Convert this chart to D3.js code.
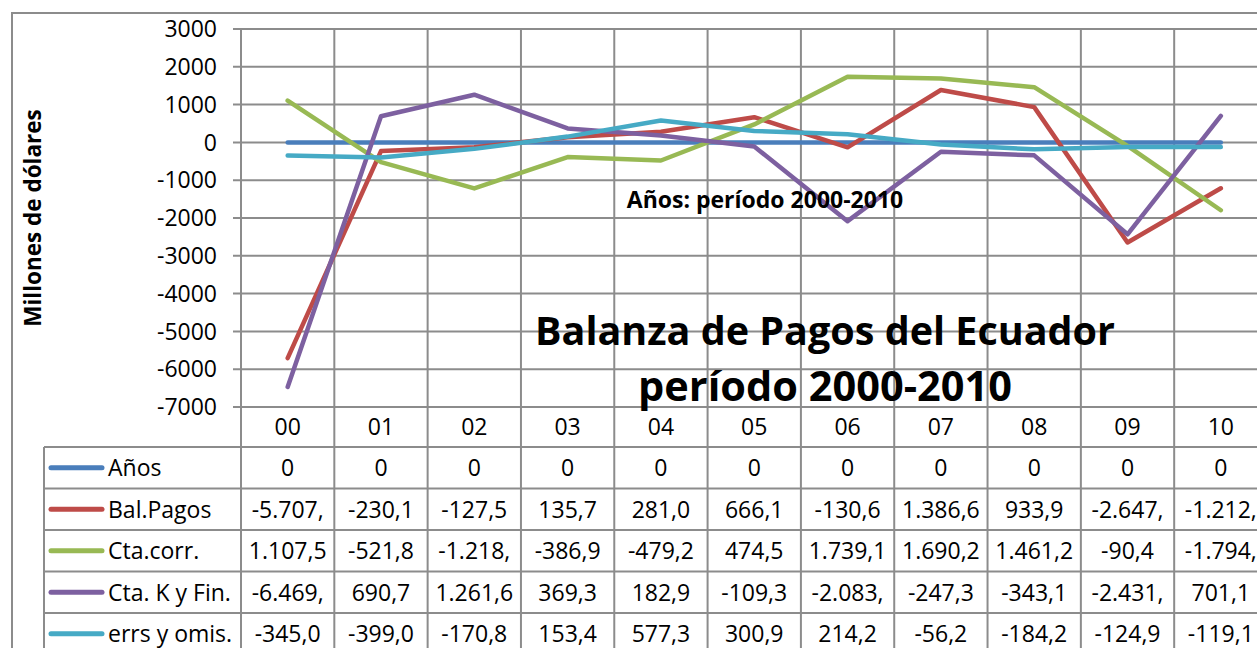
<!DOCTYPE html>
<html>
<head>
<meta charset="utf-8">
<script src="https://cdn.jsdelivr.net/npm/d3@7"></script>
<style>
  body { margin: 0; background: #fff; }
  svg { display: block; font-family: "Open Sans", sans-serif; }
  .grid line { stroke: #8c8c8c; stroke-width: 2; }
</style>
</head>
<body>
<script>
const width = 1257,
      height = 648;

// years shown on the category axis
const years = ["00", "01", "02", "03", "04", "05", "06", "07", "08", "09", "10"];
const seriesNames = ["Años", "Bal.Pagos", "Cta.corr.", "Cta. K y Fin.", "errs y omis."];
const seriesColors = ["#4a7ebb", "#be4b48", "#98b954", "#7d60a0", "#46aac5"];

// millones de dólares
const anos      = [0, 0, 0, 0, 0, 0, 0, 0, 0, 0, 0];
const balPagos  = [-5707.2, -230.1, -127.5, 135.7, 281.0, 666.1, -130.6, 1386.6, 933.9, -2647.1, -1212.6];
const ctaCorr   = [1107.5, -521.8, -1218.3, -386.9, -479.2, 474.5, 1739.1, 1690.2, 1461.2, -90.4, -1794.6];
const ctaKFin   = [-6469.7, 690.7, 1261.6, 369.3, 182.9, -109.3, -2083.9, -247.3, -343.1, -2431.8, 701.1];
const errsOmis  = [-345.0, -399.0, -170.8, 153.4, 577.3, 300.9, 214.2, -56.2, -184.2, -124.9, -119.1];

const yTicks = [3000, 2000, 1000, 0, -1000, -2000, -3000, -4000, -5000, -6000, -7000];

const allSeries = [anos, balPagos, ctaCorr, ctaKFin, errsOmis];

const plotLeft = 241, plotRight = 1267.5, plotTop = 29, plotBottom = 407;
const tableTop = 447, rowH = 41.5, legendLeft = 44;

let svg = d3.select("body")
    .append("svg")
    .attr("width", width)
    .attr("height", height);

let x = d3.scaleBand().domain(years).range([plotLeft, plotRight]);
let y = d3.scaleLinear().domain([-7000, 3000]).range([plotBottom, plotTop]);
let row = d3.scaleBand().domain(seriesNames).range([tableTop, tableTop + rowH * seriesNames.length]);

// outer chart border
svg.append("path")
    .attr("d", "M12," + (height + 5) + "V13H" + (width + 5))
    .attr("fill", "none")
    .attr("stroke", "#8c8c8c")
    .attr("stroke-width", 2);

// horizontal gridlines + ticks
let grid = svg.append("g").attr("class", "grid");
grid.selectAll(".hg")
    .data(yTicks)
    .enter().append("line")
    .attr("x1", plotLeft - 8)
    .attr("x2", width + 5)
    .attr("y1", d => y(d))
    .attr("y2", d => y(d));

// vertical gridlines, running down through the data table
let edges = years.map(d => x(d)).concat([plotRight]);
grid.selectAll(".vg")
    .data(edges)
    .enter().append("line")
    .attr("x1", d => d)
    .attr("x2", d => d)
    .attr("y1", plotTop)
    .attr("y2", height + 5);

// table horizontal lines
grid.selectAll(".tr")
    .data(d3.range(seriesNames.length + 1))
    .enter().append("line")
    .attr("x1", legendLeft)
    .attr("x2", width + 5)
    .attr("y1", d => tableTop + d * rowH)
    .attr("y2", d => tableTop + d * rowH);

grid.append("line")
    .attr("x1", legendLeft).attr("x2", legendLeft)
    .attr("y1", tableTop).attr("y2", height + 5);

// y tick labels
svg.append("g")
    .selectAll("text")
    .data(yTicks)
    .enter().append("text")
    .attr("x", 217)
    .attr("y", d => y(d))
    .attr("dy", "0.36em")
    .attr("text-anchor", "end")
    .style("font-size", "23px")
    .text(d => d);

// category labels
svg.append("g")
    .selectAll("text")
    .data(years)
    .enter().append("text")
    .attr("x", d => x(d) + x.bandwidth() / 2)
    .attr("y", (plotBottom + tableTop) / 2)
    .attr("dy", "0.36em")
    .attr("text-anchor", "middle")
    .style("font-size", "23px")
    .text(d => d);

// series lines
let line = d3.line()
    .x((d, i) => x(years[i]) + x.bandwidth() / 2)
    .y(d => y(d));

svg.append("g")
    .selectAll("path")
    .data(allSeries)
    .enter().append("path")
    .attr("d", d => line(d))
    .attr("fill", "none")
    .attr("stroke", (d, i) => seriesColors[i])
    .attr("stroke-width", 4.5)
    .attr("stroke-linecap", "round")
    .attr("stroke-linejoin", "round");

// data table: legend keys + names
let legend = svg.append("g")
    .selectAll("g")
    .data(seriesNames)
    .enter().append("g")
    .attr("transform", d => "translate(0," + (row(d) + rowH / 2) + ")");

legend.append("line")
    .attr("x1", 51).attr("x2", 102)
    .attr("stroke", (d, i) => seriesColors[i])
    .attr("stroke-width", 5)
    .attr("stroke-linecap", "round");

legend.append("text")
    .attr("x", 108)
    .attr("dy", "0.36em")
    .style("font-size", "23px")
    .text(d => d);

// formatted like the spreadsheet: 1.234,5 ; cut when it does not fit the cell
const fmt = d3.formatLocale({decimal: ",", thousands: ".", grouping: [3], currency: ["", ""], minus: "-"});
const fmt1 = fmt.format(",.1f");

function cellText(v) {
    return v === 0 ? "0" : fmt1(v);
}

let cells = svg.append("g");
allSeries.forEach(function (vals, si) {
    cells.selectAll(".c" + si)
        .data(vals)
        .enter().append("text")
        .attr("x", (d, i) => x(years[i]) + x.bandwidth() / 2)
        .attr("y", row(seriesNames[si]) + rowH / 2)
        .attr("dy", "0.36em")
        .attr("text-anchor", "middle")
        .style("font-size", "23px")
        .text(d => cellText(d))
        .each(function () {
            let t = d3.select(this), s = t.text();
            while (this.getComputedTextLength() > x.bandwidth() - 10 && s.length > 1) {
                s = s.slice(0, -1);
                t.text(s);
            }
        });
});

// titles
svg.append("text")
    .attr("text-anchor", "middle")
    .attr("transform", "translate(41,218)rotate(-90)")
    .style("font-size", "22.5px")
    .style("font-weight", "bold")
    .text("Millones de dólares");

svg.append("text")
    .attr("x", 765)
    .attr("y", 208)
    .attr("text-anchor", "middle")
    .style("font-size", "23px")
    .style("font-weight", "bold")
    .text("Años: período 2000-2010");

svg.append("text")
    .attr("x", 825)
    .attr("y", 345)
    .attr("text-anchor", "middle")
    .style("font-size", "39.5px")
    .style("font-weight", "bold")
    .text("Balanza de Pagos del Ecuador");

svg.append("text")
    .attr("x", 825)
    .attr("y", 401)
    .attr("text-anchor", "middle")
    .style("font-size", "41.5px")
    .style("font-weight", "bold")
    .text("período 2000-2010");
</script>
</body>
</html>
